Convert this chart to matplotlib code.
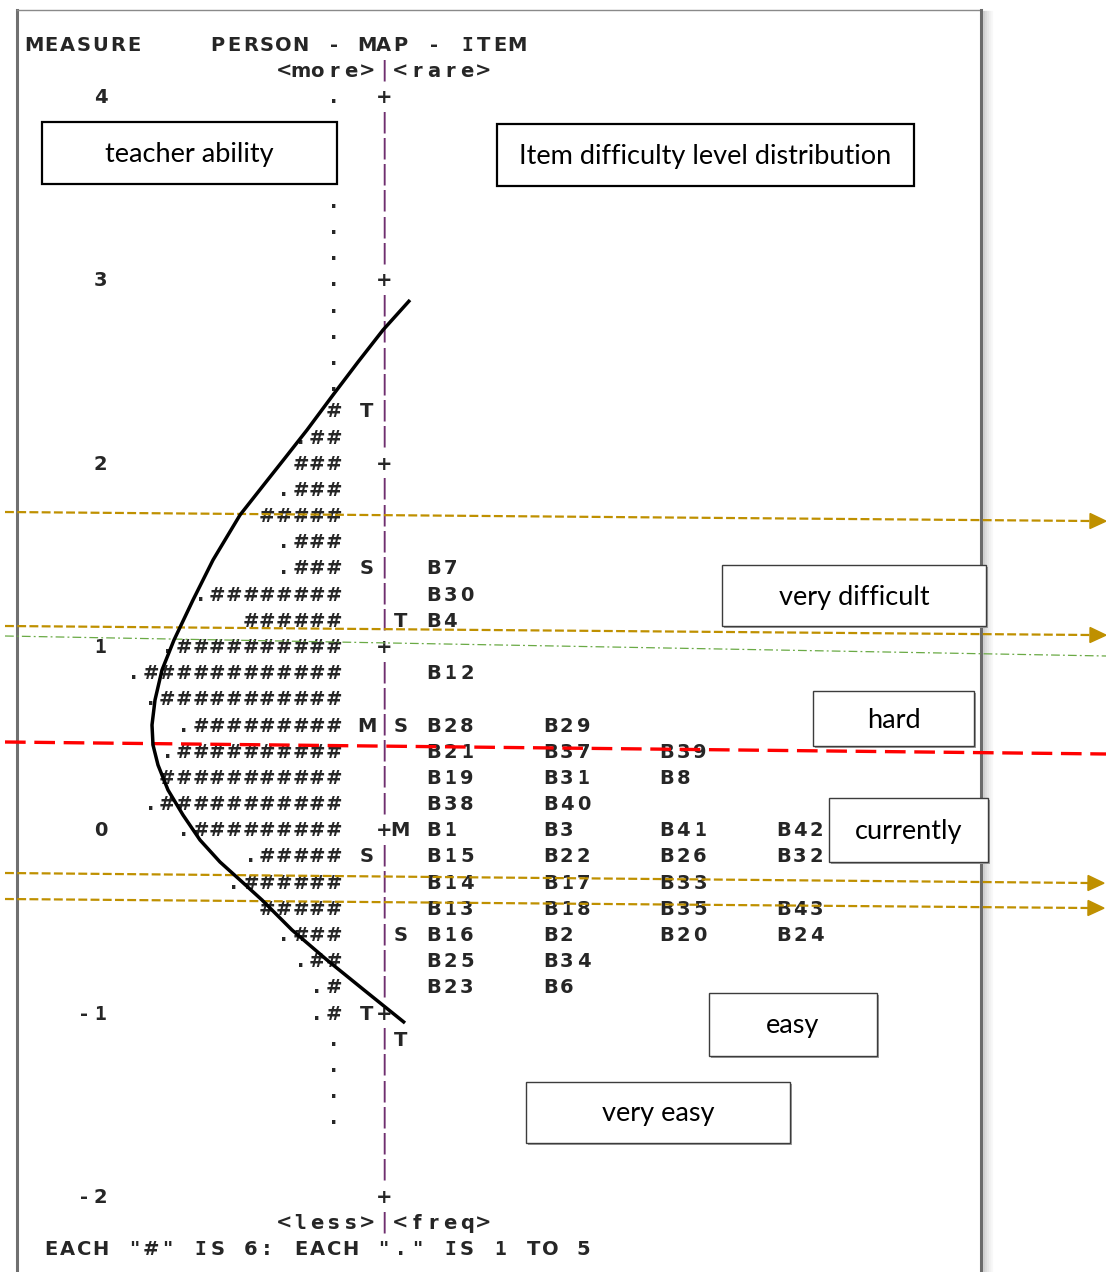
import matplotlib
matplotlib.use("Agg")
import matplotlib.pyplot as plt
from matplotlib.patches import Rectangle, Polygon

# ------------------------------------------------------------------ data
measure_ticks = [4, 3, 2, 1, 0, -1, -2]
rows_per_unit = 7
top_measure = 4

# person distribution, one string per map row (row 0 = measure 4, step 1/7)
person_rows = [
    ".", "", "", "", ".", ".", ".", ".", ".", ".", ".", ".",
    "#", ".##", "###", ".###", "#####", ".###", ".###", ".########",
    "######", ".##########", ".############", ".###########",
    ".#########", ".##########", "###########", ".###########",
    ".#########", ".#####", ".######", "#####", ".###", ".##", ".#",
    ".#", ".", ".", ".", ".", "", "", "",
]
person_mark_rows = [12, 18, 24, 29, 35]
person_mark_text = ["T", "S", "M", "S", "T"]
item_mark_rows = [20, 24, 28, 32, 36]
item_mark_text = ["T", "S", "M", "S", "T"]

item_rows = [18, 19, 20, 22, 24, 25, 26, 27, 28, 29, 30, 31, 32, 33, 34]
item_labels = [
    ["B7"], ["B30"], ["B4"], ["B12"], ["B28", "B29"],
    ["B21", "B37", "B39"], ["B19", "B31", "B8"], ["B38", "B40"],
    ["B1", "B3", "B41", "B42"], ["B15", "B22", "B26", "B32", "B36"],
    ["B14", "B17", "B33"], ["B13", "B18", "B35", "B43"],
    ["B16", "B2", "B20", "B24"], ["B25", "B34"], ["B23", "B6"],
]

header_title = "MEASURE    PERSON - MAP - ITEM"
header_top = "<more>|<rare>"
footer_bottom = "<less>|<freq>"
footer_note = 'EACH "#" IS 6: EACH "." IS 1 TO 5'

annot_labels = ["teacher ability", "Item difficulty level distribution",
                "very difficult", "hard", "currently", "easy", "very easy"]

# ------------------------------------------------------------------ layout
W, H, DPI = 1106, 1272, 100
COL_LABEL_END, COL_PERSON_END = 4, 18
COL_PMARK, COL_SEP, COL_IMARK = 20, 21, 22
ITEM_COLS = [24, 31, 38, 45, 52]

# geometry of the character grid (pixels)
PX0, PITCH = 34.0, 16.65
PY4, UNIT = 96.0, 183.27

fig = plt.figure(figsize=(W / DPI, H / DPI), dpi=DPI)
fig.patch.set_facecolor("white")
ax = fig.add_axes([0, 0, 1, 1])
ax.set_xlim(-PX0 / PITCH, (W - PX0) / PITCH)
ax.set_ylim(top_measure - (H - PY4) / UNIT, top_measure + PY4 / UNIT)
ax.axis("off")

GRIDFONT = "DejaVu Sans"
MONOFONT = "DejaVu Sans Mono"
NARROW = set("Il1")
FS = 14
TXT = "#262626"
BAR = "#6f2f6f"
BASE = 7.2 / UNIT   # baseline offset below row centre (measure units)


def row_m(i):
    return top_measure - i / rows_per_unit


def put(s, col0, m):
    for k, ch in enumerate(s):
        if ch == " ":
            continue
        if ch == "|":
            ax.text(col0 + k, m, ch, ha="center", va="center",
                    family=MONOFONT, fontsize=16, color=BAR)
        else:
            ax.text(col0 + k, m - BASE, ch, ha="center", va="baseline",
                    family=MONOFONT if ch in NARROW else GRIDFONT,
                    fontsize=FS, color=TXT, fontweight="bold")


n_rows = len(person_rows)
pm = dict(zip(person_mark_rows, person_mark_text))
im = dict(zip(item_mark_rows, item_mark_text))
it = dict(zip(item_rows, item_labels))

for i in range(n_rows):
    m = row_m(i)
    if i % rows_per_unit == 0:
        lab = str(measure_ticks[i // rows_per_unit])
        put(lab, COL_LABEL_END - len(lab) + 1, m)
        put("+", COL_SEP, m)
    else:
        put("|", COL_SEP, m)
    s = person_rows[i]
    if s:
        put(s, COL_PERSON_END - len(s) + 1, m)
    if i in pm:
        put(pm[i], COL_PMARK, m)
    if i in im:
        put(im[i], COL_IMARK, m)
    if i in it:
        for c, lab in zip(ITEM_COLS, it[i]):
            put(lab, c, m)

put(header_title, 0, row_m(-2))
put(header_top, COL_SEP - 6, row_m(-1))
put(footer_bottom, COL_SEP - 6, row_m(n_rows))
put(footer_note, 1, row_m(n_rows + 1))

# ------------------------------------------------------------------ overlay (pixel space)
ov = fig.add_axes([0, 0, 1, 1])
ov.set_xlim(0, W)
ov.set_ylim(H, 0)
ov.axis("off")
ov.patch.set_alpha(0)

# page frame
ov.plot([17, 17], [10, H], color="#707070", lw=2.2, zorder=1)
ov.plot([17, 981], [10, 10], color="#8a8a8a", lw=1.0, zorder=1)
for k, a in enumerate([0.35, 0.25, 0.17, 0.1, 0.05]):
    ov.plot([984 + 2 * k, 984 + 2 * k], [12, H], color="#808080", lw=1.6,
            alpha=a, zorder=1)
ov.plot([981, 981], [10, H], color="#6b6b6b", lw=2.2, zorder=1)

# black curve
curve_x = [410, 383, 358, 333, 307, 285, 266, 240, 213, 193, 174, 162, 155,
           152, 153, 158, 168, 183, 200, 220, 240, 262, 292, 327, 364, 405]
curve_y = [300, 330, 362, 395, 430, 458, 482, 515, 560, 600, 640, 670, 700,
           725, 745, 765, 790, 815, 840, 862, 880, 900, 930, 960, 990, 1023]
ov.plot(curve_x, curve_y, color="black", lw=2.5, solid_joinstyle="round",
        solid_capstyle="butt", zorder=5)

GOLD = "#BF9000"


def arrow_line(x0, y0, x1, y1):
    ov.plot([x0, x1], [y0, y1], color=GOLD, lw=1.6,
            linestyle=(0, (4.0, 1.5)), zorder=4)
    dx, dy = x1 - x0, y1 - y0
    L = (dx * dx + dy * dy) ** 0.5
    ux, uy = dx / L, dy / L
    hl, hw = 16, 7.5
    tip = (x1 + ux * hl, y1 + uy * hl)
    ov.add_patch(Polygon([tip, (x1 - uy * hw, y1 + ux * hw),
                          (x1 + uy * hw, y1 - ux * hw)],
                         closed=True, color=GOLD, zorder=4))


arrow_line(5, 512, 1090, 521)
arrow_line(5, 626, 1090, 635)
arrow_line(5, 873, 1088, 883)
arrow_line(5, 899, 1088, 908)

ov.plot([5, 1106], [636, 656], color="#6aaa45", lw=0.9,
        linestyle=(0, (7, 2.5, 1.5, 2.5)), zorder=4)
ov.plot([5, 1106], [742, 754], color="#ff0000", lw=2.4,
        linestyle=(0, (6.2, 2.6)), zorder=4)

# annotation boxes
box_geom = [(42, 122, 337, 184), (497, 124, 914, 186), (722, 565, 986, 626),
            (813, 691, 974, 746), (829, 798, 988, 862), (709, 993, 877, 1056),
            (526, 1082, 790, 1143)]
thick = [True, True, False, False, False, False, False]
for lab, (x0, y0, x1, y1), tk in zip(annot_labels, box_geom, thick):
    if not tk:
        ov.add_patch(Rectangle((x0 + 2, y0 + 2), x1 - x0, y1 - y0,
                               facecolor="#a0a0a0", edgecolor="none",
                               zorder=6))
    ov.add_patch(Rectangle((x0, y0), x1 - x0, y1 - y0, facecolor="white",
                           edgecolor="black" if tk else "#3c3c3c",
                           lw=1.6 if tk else 1.0, zorder=7))
    ov.text((x0 + x1) / 2, (y0 + y1) / 2 + 1.5, lab, ha="center",
            va="center", family="Lato", fontsize=19.5, color="black",
            zorder=8)

fig.savefig("out.png", dpi=DPI, facecolor="white")
